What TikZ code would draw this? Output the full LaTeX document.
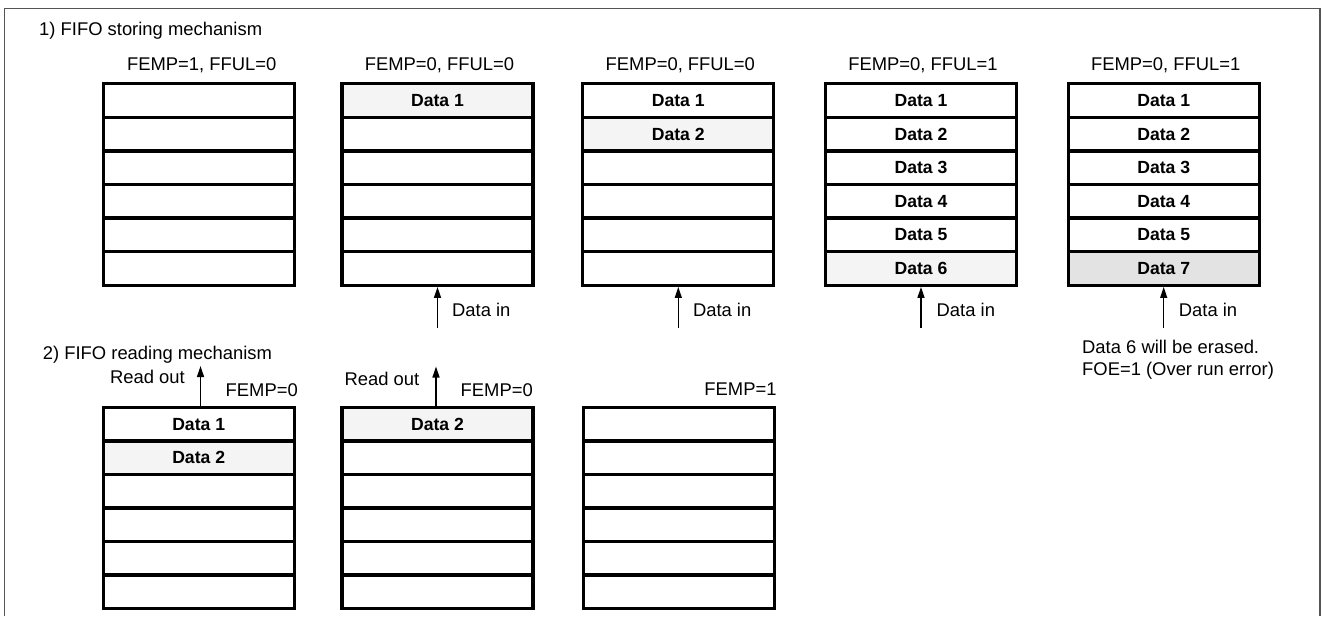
\documentclass[tikz,border=0pt]{standalone}
\usepackage{fontspec}
\setmainfont{Liberation Sans}
\usetikzlibrary{arrows.meta}
\definecolor{litefill}{HTML}{F4F4F4}
\definecolor{darkfill}{HTML}{E3E3E3}
\definecolor{framegray}{HTML}{555555}
\tikzset{
  lbl/.style={inner sep=0pt, font=\fontsize{18.4}{22}\selectfont},
  cell/.style={draw, line width=3.3pt, minimum width=191pt, inner sep=0pt,
    font=\bfseries\fontsize{17.6}{20}\selectfont},
  plain/.style={},
  lite/.style={fill=litefill},
  dark/.style={fill=darkfill},
  arr/.style={line width=1.3pt, -{Triangle[length=11pt,width=7pt]}},
}
\newcommand\fifobox[5]{% prefix, cx, top, pitch, list
  \foreach \lab/\sty [count=\i] in {#5} {
    \node[cell,\sty,minimum height=#4pt] (#1\i) at (#2,{#3+(\i-0.5)*#4}) {\lab};
  }}
\begin{document}
\begin{tikzpicture}[x=1pt,y=-1pt]
\useasboundingbox (0,0) rectangle (1322,616);
\draw[framegray, line width=1.3pt] (4.5,616) -- (4.5,8.5) -- (1320,8.5) -- (1320,616);

% ---- storing ----
\node[lbl, anchor=base west] (t1) at (39,35.5) {1) FIFO storing mechanism};

\fifobox{sa}{198.7}{83.7}{33.6}{{}/plain,{}/plain,{}/plain,{}/plain,{}/plain,{}/plain}
\fifobox{sb}{437.5}{83.7}{33.6}{Data 1/lite,{}/plain,{}/plain,{}/plain,{}/plain,{}/plain}
\fifobox{sc}{678.3}{83.7}{33.6}{Data 1/plain,Data 2/lite,{}/plain,{}/plain,{}/plain,{}/plain}
\fifobox{sd}{921}{83.7}{33.6}{Data 1/plain,Data 2/plain,Data 3/plain,Data 4/plain,Data 5/plain,Data 6/lite}
\fifobox{se}{1163.7}{83.7}{33.6}{Data 1/plain,Data 2/plain,Data 3/plain,Data 4/plain,Data 5/plain,Data 7/dark}

\node[lbl, anchor=base] (ha) at (201.7,70) {FEMP=1, FFUL=0};
\node[lbl, anchor=base] (hb) at (439.5,70) {FEMP=0, FFUL=0};
\node[lbl, anchor=base] (hc) at (680.3,70) {FEMP=0, FFUL=0};
\node[lbl, anchor=base] (hd) at (923,70) {FEMP=0, FFUL=1};
\node[lbl, anchor=base] (he) at (1165.7,70) {FEMP=0, FFUL=1};

\coordinate (inb) at (437.5,328);
\coordinate (inc) at (678.3,328);
\coordinate (ind) at (921,328);
\coordinate (ine) at (1163.7,328);
\draw[arr] (inb) -- (sb6.south);
\draw[arr] (inc) -- (sc6.south);
\draw[arr] (ind) -- (sd6.south);
\draw[arr] (ine) -- (se6.south);
\node[lbl, anchor=base west] (db) at (452,316) {Data in};
\node[lbl, anchor=base west] (dc) at (692.8,316) {Data in};
\node[lbl, anchor=base west] (dd) at (936.5,316) {Data in};
\node[lbl, anchor=base west] (de) at (1178.7,316) {Data in};

\node[lbl, anchor=base west] (er1) at (1082,353.5) {Data 6 will be erased.};
\node[lbl, anchor=base west] (er2) at (1082,375.5) {FOE=1 (Over run error)};

% ---- reading ----
\node[lbl, anchor=base west] (t2) at (42.7,359) {2) FIFO reading mechanism};

\fifobox{ra}{198.7}{407.5}{33.5}{Data 1/plain,Data 2/lite,{}/plain,{}/plain,{}/plain,{}/plain}
\fifobox{rb}{437.5}{407.5}{33.5}{Data 2/lite,{}/plain,{}/plain,{}/plain,{}/plain,{}/plain}
\fifobox{rc}{679.3}{407.5}{33.5}{{}/plain,{}/plain,{}/plain,{}/plain,{}/plain,{}/plain}

\coordinate (outa) at (200.5,366);
\coordinate (outb) at (436,366.5);
\draw[arr] (ra1.north -| outa) -- (outa);
\draw[arr] (rb1.north -| outb) -- (outb);
\node[lbl, anchor=base east] (roa) at (185,383.5) {Read out};
\node[lbl, anchor=base east] (rob) at (419.5,385.5) {Read out};

\node[lbl, anchor=base east] (fa) at (298,396) {FEMP=0};
\node[lbl, anchor=base east] (fb) at (533,396) {FEMP=0};
\node[lbl, anchor=base east] (fc) at (776.7,395.5) {FEMP=1};
\end{tikzpicture}
\end{document}
